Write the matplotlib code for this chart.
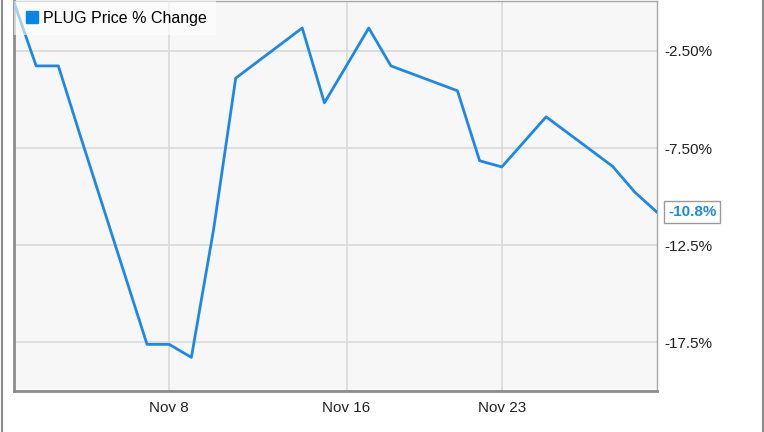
import matplotlib.pyplot as plt
import matplotlib.dates as mdates
import numpy as np
import pandas as pd

plt.rcParams['font.family'] = ['Liberation Sans', 'DejaVu Sans']

# PLUG daily % change, Nov 2022 (trading days)
dates = ['2022-11-01', '2022-11-02', '2022-11-03', '2022-11-04', '2022-11-07',
         '2022-11-08', '2022-11-09', '2022-11-10', '2022-11-11', '2022-11-14',
         '2022-11-15', '2022-11-16', '2022-11-17', '2022-11-18', '2022-11-21',
         '2022-11-22', '2022-11-23', '2022-11-25', '2022-11-28', '2022-11-29',
         '2022-11-30']
pct = [0.0, -3.27, -3.27, -6.9, -17.6,
       -17.6, -18.27, -11.7, -3.9, -1.32,
       -5.17, -3.25, -1.32, -3.27, -4.55,
       -8.15, -8.47, -5.89, -8.44, -9.77,
       -10.8]
tick_dates = ['2022-11-08', '2022-11-16', '2022-11-23']
tick_labels = ['Nov 8', 'Nov 16', 'Nov 23']
ytick_vals = [-2.5, -7.5, -12.5, -17.5]
ytick_labels = ['-2.50%', '-7.50%', '-12.5%', '-17.5%']

line_color = '#1e88e5'
x = pd.to_datetime(dates)

fig = plt.figure(figsize=(7.64, 4.32), dpi=100)
ax = fig.add_axes([14 / 764, 41 / 432, 643 / 764, 390 / 432])
ax.set_facecolor('#f7f7f7')

ax.plot(x, pct, color=line_color, lw=2, label='PLUG Price % Change', zorder=3)

ax.set_xlim(pd.Timestamp('2022-11-01'), pd.Timestamp('2022-11-30'))
ax.set_ylim(-20.0, 0.07)

ax.set_xticks(pd.to_datetime(tick_dates))
ax.set_xticklabels(tick_labels)
ax.set_yticks(ytick_vals)
ax.set_yticklabels(ytick_labels)
ax.yaxis.tick_right()
ax.tick_params(axis='both', length=0, labelsize=11, colors='#222222')
ax.tick_params(axis='x', pad=7)
ax.tick_params(axis='y', pad=5)
ax.grid(True, color='#dadada', lw=1.2)
ax.set_axisbelow(True)

for side in ['left', 'bottom']:
    ax.spines[side].set_color('#8c8c8c')
    ax.spines[side].set_linewidth(2)
for side in ['right', 'top']:
    ax.spines[side].set_color('#a8a8a8')
    ax.spines[side].set_linewidth(1)

# legend: square marker on a translucent white box
handle = plt.Line2D([], [], marker='s', ls='none', color='#0a84e6', markersize=8)
leg = ax.legend([handle], ['PLUG Price % Change'], loc='upper left',
                frameon=True, fancybox=False, fontsize=11.5,
                borderaxespad=0, handletextpad=0.2, borderpad=0.6,
                handlelength=1.0)
leg.get_frame().set_facecolor('white')
leg.get_frame().set_alpha(0.6)
leg.get_frame().set_linewidth(0)
leg.set_zorder(5)

# last value label
ax.annotate(f'{pct[-1]}%', xy=(x[-1], pct[-1]), xytext=(8, 0),
            textcoords='offset points', va='center', ha='left',
            color=line_color, fontsize=11, fontweight='bold',
            bbox=dict(boxstyle='square,pad=0.25', fc='white', ec='#9a9a9a', lw=1),
            annotation_clip=False, zorder=6)

# outer figure border lines
fig.add_artist(plt.Line2D([1.5 / 764, 1.5 / 764], [0, 1], color='#8c8c8c', lw=1.5))
fig.add_artist(plt.Line2D([762.5 / 764, 762.5 / 764], [0, 1], color='#8c8c8c', lw=1.5))

fig.savefig('out.png', dpi=100)
